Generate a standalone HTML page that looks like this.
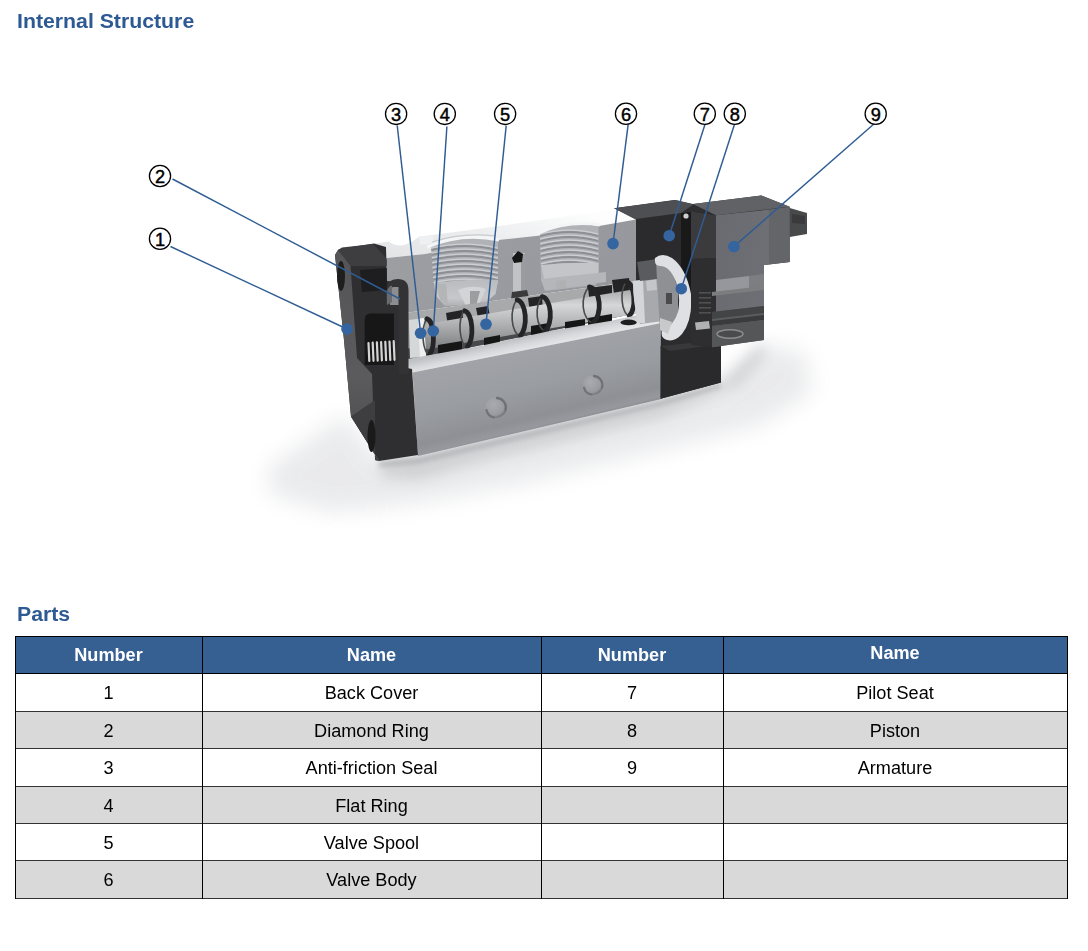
<!DOCTYPE html>
<html><head><meta charset="utf-8">
<style>
html,body{margin:0;padding:0;background:#fff;}
body{width:1088px;height:951px;position:relative;overflow:hidden;font-family:"Liberation Sans",sans-serif;}
.h{position:absolute;left:17px;font-weight:bold;font-size:20px;color:#2e5a93;line-height:1;white-space:nowrap;transform:scaleX(1.063);transform-origin:0 0;}
.c{position:absolute;text-align:center;font-size:17.5px;line-height:1;color:#000;white-space:nowrap;transform:scaleX(1.035);}
.hd{color:#fff;font-weight:bold;}
.hl{position:absolute;height:1px;}
.vl{position:absolute;width:1px;background:#000;}
.row{position:absolute;left:15px;width:1052px;}
#art{position:absolute;left:0;top:0;}
</style></head><body>
<div class="h" style="top:11px">Internal Structure</div>
<div class="h" style="top:604px">Parts</div>
<svg id="art" width="1088" height="600" viewBox="0 0 1088 600">
<defs>
<linearGradient id="gLedge" gradientUnits="userSpaceOnUse" x1="529" y1="336" x2="532" y2="350">
<stop offset="0" stop-color="#bfc1c5"/><stop offset="0.5" stop-color="#d6d8db"/><stop offset="1" stop-color="#e6e7e9"/></linearGradient>
<filter id="bS" x="-60%" y="-100%" width="220%" height="300%"><feGaussianBlur stdDeviation="11"/></filter>
<filter id="bM" x="-50%" y="-80%" width="200%" height="260%"><feGaussianBlur stdDeviation="7"/></filter>
<filter id="b2" x="-20%" y="-50%" width="140%" height="200%"><feGaussianBlur stdDeviation="2.5"/></filter>
<filter id="b1" x="-20%" y="-20%" width="140%" height="140%"><feGaussianBlur stdDeviation="0.7"/></filter>
<linearGradient id="gFront" gradientUnits="userSpaceOnUse" x1="528" y1="345" x2="549" y2="432">
<stop offset="0" stop-color="#a1a3a8"/><stop offset="0.45" stop-color="#9a9da2"/><stop offset="0.8" stop-color="#8e9095"/><stop offset="0.9" stop-color="#96989d"/><stop offset="0.97" stop-color="#85878c"/><stop offset="1" stop-color="#65676c"/></linearGradient>
<linearGradient id="gTop" x1="0" y1="1" x2="1" y2="0.4">
<stop offset="0" stop-color="#e2e4e6"/><stop offset="0.45" stop-color="#eaebed"/><stop offset="0.75" stop-color="#f3f4f5"/><stop offset="1" stop-color="#fdfdfd"/></linearGradient>
<linearGradient id="gCut" x1="0" y1="0" x2="1" y2="0.3">
<stop offset="0" stop-color="#9d9fa3"/><stop offset="1" stop-color="#96989d"/></linearGradient>
<linearGradient id="gSol" x1="0" y1="0" x2="1" y2="0.2">
<stop offset="0" stop-color="#6a6b70"/><stop offset="1" stop-color="#6e6f74"/></linearGradient>
<linearGradient id="gSpool" x1="0" y1="0" x2="0" y2="1">
<stop offset="0" stop-color="#9a9b9d"/><stop offset="0.3" stop-color="#d6d7d9"/><stop offset="0.6" stop-color="#aeafb1"/><stop offset="1" stop-color="#77787a"/></linearGradient>
<linearGradient id="gPort" x1="0" y1="0" x2="0" y2="1">
<stop offset="0" stop-color="#b9bbbf"/><stop offset="0.7" stop-color="#c6c8cb"/><stop offset="1" stop-color="#aeb0b4"/></linearGradient>
<pattern id="thread" width="10" height="4.6" patternUnits="userSpaceOnUse" patternTransform="rotate(-3)">
<rect width="10" height="4.6" fill="#d9dadc"/><rect y="2.9" width="10" height="1.6" fill="#a9aaac"/></pattern>
<radialGradient id="gHole" cx="0.38" cy="0.36" r="0.68">
<stop offset="0" stop-color="#a9abaf"/><stop offset="0.75" stop-color="#989a9f"/><stop offset="1" stop-color="#6f7176"/></radialGradient>
<linearGradient id="gCapL" x1="0" y1="0" x2="0" y2="1">
<stop offset="0" stop-color="#555557"/><stop offset="0.6" stop-color="#5b5b5d"/><stop offset="1" stop-color="#4a4a4c"/></linearGradient>
</defs>
<g id="valve">
<!-- shadow -->
<polygon points="345,415 380,462 418,458 661,400 722,384 762,345 805,352 812,392 760,425 640,455 520,484 420,503 330,512 270,494 268,468" fill="#e3e4e6" opacity="0.75" filter="url(#bS)"/>
<polygon points="378,462 418,457 661,400 721,383 760,345 768,352 740,385 661,418 480,462 418,480 382,478" fill="#c6c7ca" opacity="0.75" filter="url(#bM)"/>
<polygon points="378,462 418,457 661,400 721,383 721,388 661,406 418,464 380,467" fill="#9fa0a4" opacity="0.6" filter="url(#b2)"/>
<!-- aluminum top face -->
<path d="M372.5,244 L388.7,241.5 Q396,247 404,245 Q411,243 418.8,236.7 L440,234 L520,223 L614,209.5 L636,219.5 L599,226 L540,235.4 L498,240 L425,254 L386.5,258 Z" fill="url(#gTop)"/>
<path d="M419,237 Q426,235 433,236 L433,243 L420,245 Z" fill="#eef0f1"/>
<!-- cut face -->
<polygon points="386.5,258 425,254 498,240 540,235.4 599,226 636,219.5 636,281 405,313 387,313" fill="url(#gCut)"/>
<!-- port 1 -->
<clipPath id="cp1"><path d="M431,246 Q465,232 498,240 L498,283 L433.5,283 Z"/></clipPath>
<clipPath id="cp2"><path d="M540,232 Q570,220 598.5,226 L598.5,264 L541,266 Z"/></clipPath>
<path d="M431,246 Q465,232 498,240 L498,281 L495.5,294 L485,300 L470,305 L445,305 L436,296 L433.5,281 Z" fill="#b0b2b6"/>
<g clip-path="url(#cp1)">
<path d="M431,250.0 Q464.5,242.0 498,250.0" stroke="#8c8f94" stroke-width="1.9" fill="none"/>
<path d="M431,248.1 Q464.5,240.1 498,248.1" stroke="#cdcfd2" stroke-width="1.4" fill="none"/>
<path d="M431,255.0 Q464.5,247.0 498,255.0" stroke="#8c8f94" stroke-width="1.9" fill="none"/>
<path d="M431,253.1 Q464.5,245.1 498,253.1" stroke="#cdcfd2" stroke-width="1.4" fill="none"/>
<path d="M431,260.0 Q464.5,252.0 498,260.0" stroke="#8c8f94" stroke-width="1.9" fill="none"/>
<path d="M431,258.1 Q464.5,250.1 498,258.1" stroke="#cdcfd2" stroke-width="1.4" fill="none"/>
<path d="M431,265.0 Q464.5,257.0 498,265.0" stroke="#8c8f94" stroke-width="1.9" fill="none"/>
<path d="M431,263.1 Q464.5,255.1 498,263.1" stroke="#cdcfd2" stroke-width="1.4" fill="none"/>
<path d="M431,270.0 Q464.5,262.0 498,270.0" stroke="#8c8f94" stroke-width="1.9" fill="none"/>
<path d="M431,268.1 Q464.5,260.1 498,268.1" stroke="#cdcfd2" stroke-width="1.4" fill="none"/>
<path d="M431,275.0 Q464.5,267.0 498,275.0" stroke="#8c8f94" stroke-width="1.9" fill="none"/>
<path d="M431,273.1 Q464.5,265.1 498,273.1" stroke="#cdcfd2" stroke-width="1.4" fill="none"/>
<path d="M431,280.0 Q464.5,272.0 498,280.0" stroke="#8c8f94" stroke-width="1.9" fill="none"/>
<path d="M431,278.1 Q464.5,270.1 498,278.1" stroke="#cdcfd2" stroke-width="1.4" fill="none"/>
<path d="M431,285.0 Q464.5,277.0 498,285.0" stroke="#8c8f94" stroke-width="1.9" fill="none"/>
<path d="M431,283.1 Q464.5,275.1 498,283.1" stroke="#cdcfd2" stroke-width="1.4" fill="none"/>
</g>
<path d="M427,247 Q462,232 499,240" stroke="#f4f5f6" stroke-width="3" fill="none"/>
<path d="M432,242 Q462,232 496,236" stroke="#c9cbce" stroke-width="1.2" fill="none"/>
<path d="M434,283 Q466,278 498,280 L495.5,294 L484,304 L445,306 L436,296 Z" fill="url(#gPort)"/>
<path d="M436,284 L446,284 L448,305 L440,300 Z" fill="#b4b5b7"/>
<path d="M458,290 Q472,284 486,289 L478,306 L466,306 Z" fill="#d2d4d7"/>
<path d="M470,291 L480,291 L476,306 L470,306 Z" fill="#9c9d9f"/>
<!-- port 2 -->
<path d="M540,232 Q570,220 598.5,226 L598.5,276 L596,285 L545,291 L541,280 Z" fill="#b0b2b6"/>
<g clip-path="url(#cp2)">
<path d="M540,236.0 Q569.25,228.0 598.5,236.0" stroke="#8c8f94" stroke-width="1.9" fill="none"/>
<path d="M540,234.1 Q569.25,226.1 598.5,234.1" stroke="#cdcfd2" stroke-width="1.4" fill="none"/>
<path d="M540,241.0 Q569.25,233.0 598.5,241.0" stroke="#8c8f94" stroke-width="1.9" fill="none"/>
<path d="M540,239.1 Q569.25,231.1 598.5,239.1" stroke="#cdcfd2" stroke-width="1.4" fill="none"/>
<path d="M540,246.0 Q569.25,238.0 598.5,246.0" stroke="#8c8f94" stroke-width="1.9" fill="none"/>
<path d="M540,244.1 Q569.25,236.1 598.5,244.1" stroke="#cdcfd2" stroke-width="1.4" fill="none"/>
<path d="M540,251.0 Q569.25,243.0 598.5,251.0" stroke="#8c8f94" stroke-width="1.9" fill="none"/>
<path d="M540,249.1 Q569.25,241.1 598.5,249.1" stroke="#cdcfd2" stroke-width="1.4" fill="none"/>
<path d="M540,256.0 Q569.25,248.0 598.5,256.0" stroke="#8c8f94" stroke-width="1.9" fill="none"/>
<path d="M540,254.1 Q569.25,246.1 598.5,254.1" stroke="#cdcfd2" stroke-width="1.4" fill="none"/>
<path d="M540,261.0 Q569.25,253.0 598.5,261.0" stroke="#8c8f94" stroke-width="1.9" fill="none"/>
<path d="M540,259.1 Q569.25,251.1 598.5,259.1" stroke="#cdcfd2" stroke-width="1.4" fill="none"/>
<path d="M540,266.0 Q569.25,258.0 598.5,266.0" stroke="#8c8f94" stroke-width="1.9" fill="none"/>
<path d="M540,264.1 Q569.25,256.1 598.5,264.1" stroke="#cdcfd2" stroke-width="1.4" fill="none"/>
</g>
<path d="M538,233 Q569,220 600,225" stroke="#f4f5f6" stroke-width="3" fill="none"/>
<path d="M541,265 Q570,262 598.5,263 L598.5,279 L545,283 Z" fill="#c3c5c8"/>
<polygon points="541,279 606,272 606,282 545,290" fill="#b4b6ba"/>
<polygon points="556,281 566,280 566,288 556,289" fill="#b0b1b3"/>
<!-- channel between ports -->
<rect x="513" y="253" width="12" height="44" fill="#c0c2c5"/>
<rect x="521" y="254" width="4" height="42" fill="#9a9ca0"/>
<path d="M512,258 L518,251 L523,254 L522,262 L514,263 Z" fill="#151515"/>
<path d="M512,292 L527,290 L529,298 L511,300 Z" fill="#3a3a3c"/>

<!-- spool channel -->
<polygon points="405,313 636,281 640,276 662,296 661,308 405,361" fill="#a8a9ab"/>
<!-- pockets above spool -->
<g fill="#242426">
<polygon points="446,313 462,310 464,324 448,326"/>
<polygon points="476,308 488,306 490,316 478,318"/>
<polygon points="528,298 542,296 543,312 530,313"/>
<polygon points="588,288 612,285 612,303 590,305"/>
<polygon points="612,280 629,278 630,292 614,294"/>
</g>
<polygon points="405,349 661,304 661,308 405,361" fill="#48494c"/>
<!-- spool cylinder -->
<polygon points="408,327 660,285 660,310 410,352" fill="url(#gSpool)"/>
<!-- spool left end light -->
<polygon points="409,320 424,318 426,357 410,358" fill="#d6d7d9"/>
<polygon points="418,319 424,318 426,357 420,357" fill="#eeeff0"/>
<!-- dark gaps under spool -->
<g fill="#161616">
<polygon points="438,345 462,341 462,353 438,356"/>
<polygon points="484,338 500,335 500,343 484,346"/>
<polygon points="531,326 549,323 549,333 531,336"/>
<polygon points="565,322 585,319 585,326 565,329"/>
<polygon points="588,318 612,314 612,322 588,326"/>
</g>
<!-- O-rings -->
<g fill="none" stroke-linecap="round">
<path stroke="#4a4a4c" stroke-width="1.6" d="M427.0,318.8 A7,19 0 0 0 429.4,354.9"/>
<path stroke="#252527" stroke-width="4.8" d="M427.0,318.8 A7,19 0 0 1 429.4,354.9"/>
<path stroke="#4a4a4c" stroke-width="1.6" d="M464.6,310.8 A8,19 0 0 0 467.3,346.9"/>
<path stroke="#252527" stroke-width="4.8" d="M464.6,310.8 A8,19 0 0 1 467.3,346.9"/>
<path stroke="#4a4a4c" stroke-width="1.6" d="M517.2,299.8 A9,19 0 0 0 520.2,335.9"/>
<path stroke="#252527" stroke-width="4.8" d="M517.2,299.8 A9,19 0 0 1 520.2,335.9"/>
<path stroke="#4a4a4c" stroke-width="1.6" d="M542.2,296.7 A9,18 0 0 0 545.2,330.9"/>
<path stroke="#252527" stroke-width="4.8" d="M542.2,296.7 A9,18 0 0 1 545.2,330.9"/>
<path stroke="#4a4a4c" stroke-width="1.6" d="M589.4,286.8 A11,19 0 0 0 593.0,322.9"/>
<path stroke="#252527" stroke-width="4.8" d="M589.4,286.8 A11,19 0 0 1 593.0,322.9"/>
<path stroke="#4a4a4c" stroke-width="1.6" d="M626.6,281.7 A8,18 0 0 0 629.3,315.9"/>
<path stroke="#252527" stroke-width="4.8" d="M626.6,281.7 A8,18 0 0 1 629.3,315.9"/>
</g>
<!-- lower body top ledge -->
<polygon points="405,359.5 480,346 550,331 610,321 661,310 661.4,323 412.5,372.5 408,372" fill="url(#gLedge)"/>
<ellipse cx="628.6" cy="322.4" rx="8.2" ry="2.8" fill="#1e1e1e"/>
<!-- front face -->
<polygon points="412.5,372.5 661.4,323 661.4,399 418,456" fill="url(#gFront)"/>
<!-- holes -->
<ellipse cx="496" cy="407.5" rx="10.8" ry="10.4" fill="url(#gHole)"/>
<path d="M497,398 A9.8,9.4 0 0 1 505.5,410" stroke="#707277" stroke-width="2.4" fill="none" stroke-linecap="round" filter="url(#b1)"/>
<path d="M486.5,410 A9.8,9.4 0 0 0 494,417.5" stroke="#707277" stroke-width="2.2" fill="none" stroke-linecap="round" filter="url(#b1)"/>
<ellipse cx="593" cy="385" rx="10.2" ry="9.9" fill="url(#gHole)"/>
<path d="M594,376 A9.2,9 0 0 1 602,387.5" stroke="#707277" stroke-width="2.3" fill="none" stroke-linecap="round" filter="url(#b1)"/>
<path d="M584,387.5 A9.2,9 0 0 0 591.5,394.5" stroke="#707277" stroke-width="2.1" fill="none" stroke-linecap="round" filter="url(#b1)"/>

<!-- black end cap -->
<polygon points="335,255 338,250 342,248.5 374,243.5 386,247 387,281 400,282 406,290 407,368 412,369 418,455 379,461 351,416.5 344,340" fill="#2f2f31"/>
<polygon points="335,255 338,250 342,248.5 350.5,266 357,358 372,374 375,460 379,461 351,416.5 344,340" fill="url(#gCapL)"/>
<polygon points="351,416.5 375,400 375,460 379,461" fill="#3e3e40"/>
<polygon points="338,250 342,247.4 373.4,244 386.8,259 386.8,266 350.5,266" fill="#3e3e40"/>
<ellipse cx="341" cy="276" rx="4" ry="15" fill="#1e1e1e"/>
<ellipse cx="371.5" cy="436" rx="4" ry="16" fill="#1a1a1a"/>
<!-- slot in cap -->
<polygon points="360,270 386.8,268 386.8,290 362,292" fill="#1e1e20"/>
<!-- cavity -->
<path d="M364.7,320 Q364.7,313.6 371,313.6 L394,313.6 L394,365 L364.7,365 Z" fill="#171717"/>
<!-- spring -->
<g stroke="#d4d4d4" stroke-width="2.2" stroke-linecap="round" fill="none">
<path d="M368.5,343.0 L369.3,361.0" />
<path d="M372.7,342.7 L373.5,360.8" />
<path d="M376.9,342.4 L377.7,360.6" />
<path d="M381.1,342.1 L381.9,360.4" />
<path d="M385.3,341.8 L386.1,360.2" />
<path d="M389.5,341.5 L390.3,360.0" />
<path d="M393.7,341.2 L394.5,359.8" />
</g>
<!-- diamond ring (2) -->
<path d="M387,306 L387,289 Q387,279 397.5,279 Q408.5,279 408.5,290 L408.5,374 L398.5,374 L398.5,293 Q398.5,287 394,287 Q390,287 390,292 L390,306 Z" fill="#333335"/>
<path d="M390,292 Q390,287 394,287 L398.5,287 L398.5,305 L390,305 Z" fill="#8c8d90"/>
<path d="M386.8,292 Q388,286 392,285.5 L392,302 L386.8,305 Z" fill="#6a6b6e"/>
<polygon points="614,208.3 674.4,200.1 693,204 761.3,195.4 789.7,206.8 789.7,262 764,265 764,338 720,344 721,382.6 660.6,398.8 661,300 636,281 636,219" fill="#2e2e30"/>
<!-- pilot: top plate -->
<polygon points="614,208.3 676,200 693,204.5 693.7,212 636,219.8" fill="#4e4f53"/>
<!-- pilot front block -->
<polygon points="636,219 681,213 681,262 636,262" fill="#2b2b2d"/>
<!-- dark area right/below -->
<polygon points="636,260 716,255 716,346 661,346 661,320 636,300" fill="#2c2c2e"/>

<!-- slot -->
<polygon points="681,213 691,211.5 691,300 681,300" fill="#191919"/>
<circle cx="686" cy="216" r="2.6" fill="#cfcfcf"/>
<!-- spool end flange (light) -->
<path d="M633,281 L660,277 L663,321 L640,324 Q633,302 633,281 Z" fill="#a7a9ad"/>
<path d="M633,281 L643,280 L645,323 L638,323 Q633,302 633,281 Z" fill="#d3d5d8"/>
<path d="M646,281 L656,279 L657,290 L647,291 Z" fill="#c4c6c9"/>
<path d="M637,262 L657,259 L657,279 L640,281 Z" fill="#5a5b5e"/>
<!-- piston ring -->
<path d="M656,262 Q662,256 670,262 L678,290 L678,318 L668,334 L660,330 Z" fill="#8e9094"/>
<path fill-rule="evenodd" fill="#dfe0e3" d="M655,258 Q662,252 672,258 Q686,268 691,294 Q693,320 682,334 Q675,342 667,340 Q660,338 662,330 Q674,326 678,312 Q681,296 676,282 Q670,266 660,266 Q654,266 655,258 Z"/>
<rect x="666" y="293" width="6" height="11" fill="#4a4a4c"/>
<path d="M660,318 L672,322 L668,334 L660,330 Z" fill="#c8c9cb"/>
<!-- black base -->
<polygon points="660.6,346 708,341 721,344 721,382.6 660.6,398.8" fill="#2a2a2c"/>
<polygon points="660.6,346 708,341 721,344 670,351" fill="#38383a"/>

<!-- solenoid left plate -->
<polygon points="691,211.5 716,215.3 716,258 691,259" fill="#3b3b3d"/>
<polygon points="691,259 716,258 716,312 712,347 691,345" fill="#2e2e30"/>
<g fill="#505052"><rect x="699" y="292" width="12" height="1.6"/><rect x="699" y="297" width="12" height="1.6"/><rect x="699" y="302" width="12" height="1.6"/><rect x="699" y="307" width="12" height="1.6"/><rect x="699" y="312" width="12" height="1.6"/></g>
<path d="M695,322.5 L709,321 L710,328.5 L696,330 Z" fill="#b0b1b3"/>
<polygon points="681,213 693.4,204.6 716,215.3 691,211.5" fill="#2e2e30"/>
<!-- solenoid top -->
<polygon points="693,204 761.3,195.4 789.7,206.8 716,215.3" fill="#606266"/>
<!-- solenoid front -->
<polygon points="716,215.3 769,209.6 769,264.5 764,265 764,308 716,314" fill="url(#gSol)"/>
<polygon points="716,280 749,276 749,291 716,295" fill="#96979c"/>
<polygon points="749,276 764,274 764,288 749,291" fill="#7d7e82"/>
<!-- right housing -->
<polygon points="769,209.6 789.7,206.8 789.7,262 769,264.5" fill="#646569"/>
<!-- connector -->
<polygon points="789.7,208 807,213 807,234 789.7,237" fill="#48494b"/>
<polygon points="792,214 805,216 805,224 792,223" fill="#3a3a3c"/>
<!-- solenoid bottom -->
<polygon points="712,312 764,306 764,340 712,347.3" fill="#5b5c5e"/>
<polygon points="712,292 764,286 764,290 712,296" fill="#7c7d7f"/>
<polygon points="712,312 764,306 764,313 712,319" fill="#434446"/>
<polygon points="712,321 764,315 764,320 712,326" fill="#3a3b3d"/>
<polygon points="712,326 764,320 764,340 712,347.3" fill="#555658"/>
<ellipse cx="730" cy="334" rx="13" ry="4.2" fill="#4a4b4d" stroke="#8c8d8f" stroke-width="1.4"/>
</g>

<g id="callouts" style="font-family:'Liberation Sans',sans-serif">
<g stroke="#2f5d93" stroke-width="1.45" fill="none">
<line x1="170.5" y1="246.5" x2="347" y2="329"/>
<line x1="172.5" y1="179" x2="400" y2="299"/>
<line x1="397.2" y1="125.3" x2="420.6" y2="333.2"/>
<line x1="446.9" y1="126.5" x2="433.3" y2="331"/>
<line x1="506.2" y1="125.6" x2="486" y2="324.2"/>
<line x1="628.2" y1="124.2" x2="613" y2="243.6"/>
<line x1="705.6" y1="122.5" x2="669.2" y2="235.7"/>
<line x1="734.3" y1="125" x2="681.3" y2="288.7"/>
<line x1="875.3" y1="122.8" x2="733.9" y2="246.6"/>
</g>
<g fill="#3565a0">
<circle cx="347" cy="329" r="5.8"/>
<circle cx="420.6" cy="333.2" r="5.8"/>
<circle cx="433.3" cy="331" r="5.8"/>
<circle cx="486" cy="324.2" r="5.8"/>
<circle cx="613" cy="243.6" r="5.8"/>
<circle cx="669.2" cy="235.7" r="5.8"/>
<circle cx="681.3" cy="288.7" r="5.8"/>
<circle cx="733.9" cy="246.6" r="5.8"/>
</g>
<g fill="#fff" stroke="#000" stroke-width="1.3">
<circle cx="160" cy="238.8" r="10.6"/>
<circle cx="160" cy="176" r="10.6"/>
<circle cx="396.1" cy="113.9" r="10.6"/>
<circle cx="444.8" cy="113.9" r="10.6"/>
<circle cx="505.1" cy="113.9" r="10.6"/>
<circle cx="626" cy="113.8" r="10.6"/>
<circle cx="704.8" cy="113.7" r="10.6"/>
<circle cx="734.8" cy="113.7" r="10.6"/>
<circle cx="875.7" cy="113.7" r="10.6"/>
</g>
<g fill="#000" stroke="#000" stroke-width="0.45" font-size="18.2" text-anchor="middle">
<text x="160" y="245.6">1</text>
<text x="160" y="182.8">2</text>
<text x="396.1" y="120.7">3</text>
<text x="444.8" y="120.7">4</text>
<text x="505.1" y="120.7">5</text>
<text x="626" y="120.5">6</text>
<text x="704.8" y="120.5">7</text>
<text x="734.8" y="120.5">8</text>
<text x="875.7" y="120.5">9</text>
</g>
</g>

</svg>
<div class="row" style="top:636px;height:37px;background:#366092"></div>
<div class="row" style="top:711px;height:37px;background:#d9d9d9"></div>
<div class="row" style="top:786px;height:37px;background:#d9d9d9"></div>
<div class="row" style="top:860px;height:38px;background:#d9d9d9"></div>
<div class="hl" style="left:15px;width:1053px;top:636px;background:#000"></div>
<div class="hl" style="left:15px;width:1053px;top:673px;background:#000"></div>
<div class="hl" style="left:15px;width:1053px;top:711px;background:#333"></div>
<div class="hl" style="left:15px;width:1053px;top:748px;background:#333"></div>
<div class="hl" style="left:15px;width:1053px;top:786px;background:#333"></div>
<div class="hl" style="left:15px;width:1053px;top:823px;background:#333"></div>
<div class="hl" style="left:15px;width:1053px;top:860px;background:#333"></div>
<div class="hl" style="left:15px;width:1053px;top:898px;background:#333"></div>
<div class="vl" style="left:15px;top:636px;height:263px"></div>
<div class="vl" style="left:202px;top:636px;height:263px"></div>
<div class="vl" style="left:541px;top:636px;height:263px"></div>
<div class="vl" style="left:723px;top:636px;height:263px"></div>
<div class="vl" style="left:1067px;top:636px;height:263px"></div>
<div class="c hd" style="left:15px;width:187px;top:647px">Number</div>
<div class="c hd" style="left:202px;width:339px;top:647px">Name</div>
<div class="c hd" style="left:541px;width:182px;top:647px">Number</div>
<div class="c hd" style="left:723px;width:344px;top:645px">Name</div>
<div class="c" style="left:15px;width:187px;top:685px">1</div>
<div class="c" style="left:202px;width:339px;top:685px">Back Cover</div>
<div class="c" style="left:541px;width:182px;top:685px">7</div>
<div class="c" style="left:723px;width:344px;top:685px">Pilot Seat</div>
<div class="c" style="left:15px;width:187px;top:723px">2</div>
<div class="c" style="left:202px;width:339px;top:723px">Diamond Ring</div>
<div class="c" style="left:541px;width:182px;top:723px">8</div>
<div class="c" style="left:723px;width:344px;top:723px">Piston</div>
<div class="c" style="left:15px;width:187px;top:760px">3</div>
<div class="c" style="left:202px;width:339px;top:760px">Anti-friction Seal</div>
<div class="c" style="left:541px;width:182px;top:760px">9</div>
<div class="c" style="left:723px;width:344px;top:760px">Armature</div>
<div class="c" style="left:15px;width:187px;top:798px">4</div>
<div class="c" style="left:202px;width:339px;top:798px">Flat Ring</div>
<div class="c" style="left:15px;width:187px;top:835px">5</div>
<div class="c" style="left:202px;width:339px;top:835px">Valve Spool</div>
<div class="c" style="left:15px;width:187px;top:872px">6</div>
<div class="c" style="left:202px;width:339px;top:872px">Valve Body</div>
</body></html>
